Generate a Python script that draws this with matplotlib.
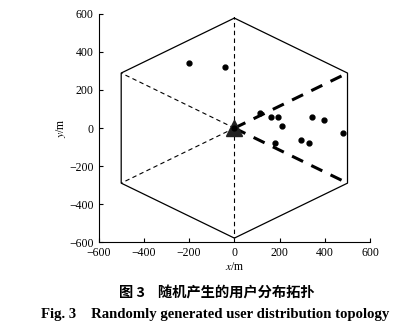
import numpy as np
import matplotlib.pyplot as plt

plt.rcParams['font.family'] = ['Liberation Serif', 'DejaVu Serif']
plt.rcParams['mathtext.fontset'] = 'stix'

# hexagon cell, radius ~577 m, base station at origin
hex_x = [0, 500, 500, 0, -500, -500, 0]
hex_y = [577, 288.7, -288.7, -577, -288.7, 288.7, 577]

# user positions (m)
user_x = [-202, -41, 114, 160, 193, 212, 342, 397, 482, 179, 296, 332]
user_y = [340, 322, 79, 59, 56, 9, 59, 42, -25, -80, -63, -80]

ticks = [-600, -400, -200, 0, 200, 400, 600]
tick_labels = ['\u2212600', '\u2212400', '\u2212200', '0', '200', '400', '600']

fig = plt.figure(figsize=(4.09, 3.34), dpi=100)
ax = fig.add_axes([0.241, 0.274, 0.664, 0.685])

ax.plot(hex_x, hex_y, color='black', lw=0.9)
# thin dashed spokes
for vx, vy in [(0, 577), (-500, 288.7), (-500, -288.7), (0, -577)]:
    ax.plot([0, vx], [0, vy], color='black', lw=0.8, dashes=(4, 3))
# thick dashed sector boundaries
for vx, vy in [(500, 288.7), (500, -288.7)]:
    ax.plot([0, vx], [0, vy], color='black', lw=2.2, dashes=(4, 3))

ax.plot(0, 0, marker='^', ms=11, color='#222222', zorder=4)
ax.plot(user_x, user_y, 'o', ms=3.5, color='black', zorder=5)
ax.plot(0, 0, 'o', ms=3.5, color='black', zorder=5)

ax.set_xlim(-600, 600)
ax.set_ylim(-600, 600)
ax.set_xticks(ticks)
ax.set_yticks(ticks)
ax.set_xticklabels(tick_labels)
ax.set_yticklabels(tick_labels)
ax.tick_params(direction='in', length=3, labelsize=8.5, width=0.8)
ax.spines['top'].set_visible(False)
ax.spines['right'].set_visible(False)
ax.set_xlabel('$x$/m', fontsize=8.5, labelpad=1)
ax.set_ylabel('$y$/m', fontsize=8.5, labelpad=1)

fig.text(0.529, 0.123, '图 3    随机产生的用户分布拓扑', ha='center', va='center',
         fontsize=10.3, fontweight='bold', family=['Noto Sans CJK SC', 'DejaVu Sans'])
fig.text(0.527, 0.057, 'Fig. 3    Randomly generated user distribution topology',
         ha='center', va='center', fontsize=10.6, fontweight='bold')

fig.savefig('out.png', dpi=100)
